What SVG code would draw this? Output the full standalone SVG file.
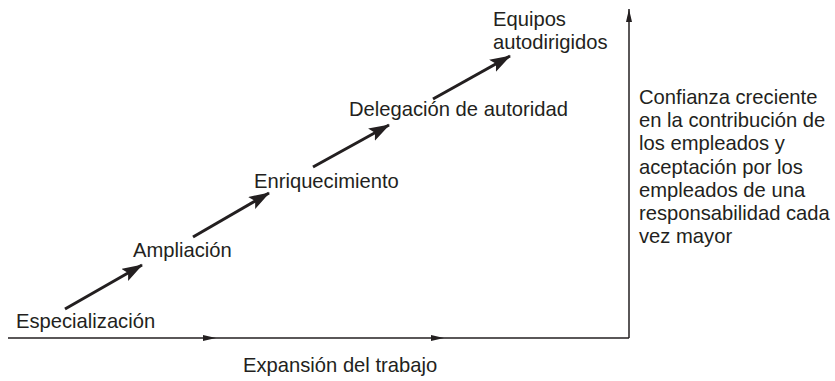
<svg xmlns="http://www.w3.org/2000/svg" width="835" height="381" viewBox="0 0 835 381">
<style>
text{font-family:"Liberation Sans",Arial,sans-serif;font-size:20.2px;fill:#231f20}
.axis{stroke:#231f20;stroke-width:1.5;fill:none}
.step{stroke:#231f20;stroke-width:3;fill:none}
</style>
<defs>
<marker id="big" markerUnits="userSpaceOnUse" markerWidth="24" markerHeight="16" refX="20" refY="7" orient="auto">
<path d="M0,0 L21,7 L0,14 L4,7 z" fill="#231f20"/>
</marker>
<marker id="small" markerUnits="userSpaceOnUse" markerWidth="14" markerHeight="8" refX="13" refY="3" orient="auto">
<path d="M0,0 L13,3 L0,6 z" fill="#231f20"/>
</marker>
</defs>
<rect width="835" height="381" fill="#fff"/>
<g id="connectors">
<path class="axis" d="M8,338 H216 H444 H629" marker-mid="url(#small)"/>
<path class="axis" d="M629,338 V9" marker-end="url(#small)"/>
<line class="step" x1="65" y1="309" x2="142" y2="265" marker-end="url(#big)"/>
<line class="step" x1="193" y1="237" x2="269" y2="193" marker-end="url(#big)"/>
<line class="step" x1="313" y1="167" x2="389" y2="125" marker-end="url(#big)"/>
<line class="step" x1="433" y1="99" x2="510" y2="56" marker-end="url(#big)"/>
</g>
<g id="especializacion"><text x="16" y="328">Especialización</text></g>
<g id="ampliacion"><text x="133" y="257">Ampliación</text></g>
<g id="enriquecimiento"><text x="254" y="188">Enriquecimiento</text></g>
<g id="delegacion"><text x="349" y="116">Delegación de autoridad</text></g>
<g id="equipos"><text x="493" y="26">Equipos</text><text x="493" y="49">autodirigidos</text></g>
<g id="expansion"><text x="243" y="372">Expansión del trabajo</text></g>
<g id="confianza">
<text x="639" y="104">Confianza creciente</text>
<text x="639" y="127">en la contribución de</text>
<text x="639" y="150">los empleados y</text>
<text x="639" y="174">aceptación por los</text>
<text x="639" y="197">empleados de una</text>
<text x="639" y="220">responsabilidad cada</text>
<text x="639" y="243">vez mayor</text>
</g>
</svg>
